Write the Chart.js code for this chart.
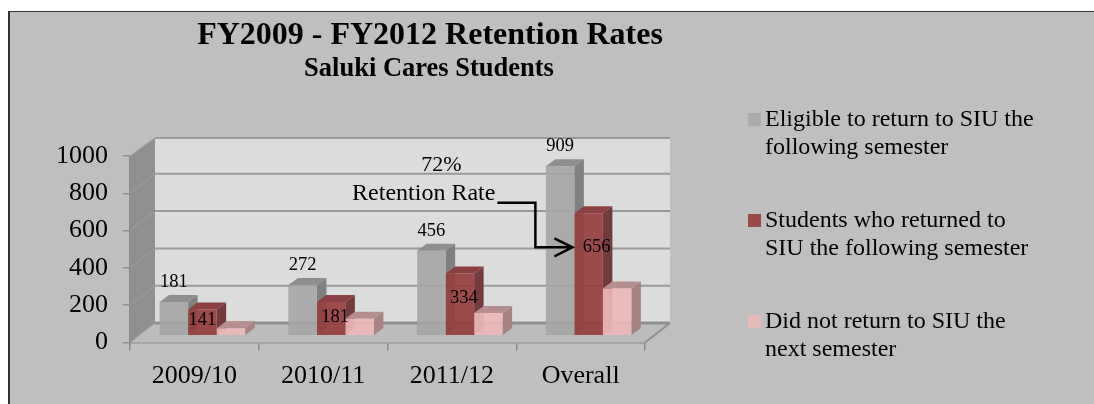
<!DOCTYPE html>
<html>
<head>
<meta charset="utf-8">
<title>FY2009 - FY2012 Retention Rates</title>
<script src="https://cdn.jsdelivr.net/npm/chart.js@4/dist/chart.umd.min.js"></script>
<style>
  html, body { margin: 0; padding: 0; background: #fff; width: 1094px; height: 404px; overflow: hidden; }
  #panel { position: absolute; left: 8px; top: 11px; right: 0; bottom: 0; background: #bfbfbf;
           border-left: 2px solid #333; border-top: 1px solid #333; }
  #chart { position: absolute; left: 0; top: 0; }
</style>
</head>
<body>
<div id="panel"></div>
<canvas id="chart" width="1094" height="404"></canvas>
<script>
const categories = ['2009/10', '2010/11', '2011/12', 'Overall'];
const eligible = [181, 272, 456, 909];
const returned = [141, 181, 334, 656];
const notReturned = [40, 91, 122, 253];
const yTicks = [0, 200, 400, 600, 800, 1000];

const legendLines = [
  ['Eligible to return to SIU the', 'following semester'],
  ['Students who returned to', 'SIU the following semester'],
  ['Did not return to SIU the', 'next semester'],
];

const SERIF = '"Liberation Serif", "Times New Roman", serif';
const FRONT = ['#acacac', '#9c4848', '#e8b9b9'];
const TOP   = ['#8e8e8e', '#8a4040', '#b58f8f'];
const SIDE  = ['#808080', '#733c3c', '#a68282'];

// offset between the axis plane and the plane the bars stand on
const BAR_SHIFT = { x: 8, y: -6.8 };
const BAR_DEPTH = { x: 9.5, y: 7 };
const WALL_DEPTH = { x: 25, y: 19.5 };

// red labels sit by hand inside the bars in the original
const RED_DROP = [11, 15, 25, 34];
const RED_NUDGE = [0, 4, 4, 8];

function poly(ctx, pts, fill) {
  ctx.beginPath();
  pts.forEach((p, i) => i ? ctx.lineTo(p[0], p[1]) : ctx.moveTo(p[0], p[1]));
  ctx.closePath();
  ctx.fillStyle = fill;
  ctx.fill();
}

function text(ctx, str, x, y, font, align) {
  ctx.font = font;
  ctx.textAlign = align || 'center';
  ctx.textBaseline = 'middle';
  ctx.fillStyle = '#000';
  ctx.fillText(str, x, y);
}

const walls = {
  id: 'walls',
  beforeDatasetsDraw(chart) {
    const { ctx, chartArea: a, scales: { y } } = chart;
    const d = WALL_DEPTH;
    const y0 = y.getPixelForValue(0), yTop = y.getPixelForValue(1000);
    ctx.save();
    // back wall, side wall, floor
    poly(ctx, [[a.left + d.x, yTop - d.y + 1.5], [a.right + d.x, yTop - d.y + 1.5], [a.right + d.x, y0 - d.y], [a.left + d.x, y0 - d.y]], '#dcdcdc');
    poly(ctx, [[a.left, yTop], [a.left + d.x, yTop - d.y + 1.5], [a.left + d.x, y0 - d.y], [a.left, y0]], '#8f8f8f');
    poly(ctx, [[a.left, y0], [a.left + d.x, y0 - d.y], [a.right + d.x, y0 - d.y], [a.right, y0]], '#bcbcbc');

    yTicks.forEach(v => {
      const py = y.getPixelForValue(v);
      ctx.beginPath();
      ctx.strokeStyle = '#9e9e9e';
      ctx.lineWidth = 1;
      ctx.moveTo(a.left, py);
      ctx.lineTo(a.left + d.x, py - d.y + (v === 1000 ? 1.5 : 0));
      ctx.stroke();
      ctx.beginPath();
      ctx.strokeStyle = v === 0 ? '#8f8f8f' : '#9a9a9a';
      ctx.lineWidth = v === 0 ? 3 : 2;
      ctx.moveTo(a.left + d.x, py - d.y + (v === 1000 ? 1.5 : 0));
      ctx.lineTo(a.right + d.x, py - d.y + (v === 1000 ? 1.5 : 0));
      ctx.stroke();
    });
    // floor right edge
    ctx.beginPath();
    ctx.strokeStyle = '#8f8f8f';
    ctx.lineWidth = 2;
    ctx.moveTo(a.right, y0);
    ctx.lineTo(a.right + d.x, y0 - d.y);
    ctx.stroke();
    ctx.restore();
  },
};

// shift the bars onto their plane and give them top and side faces,
// faces go down first so the front of the next bar covers them
const bars3d = {
  id: 'bars3d',
  beforeDatasetsDraw(chart) {
    const { ctx } = chart;
    const d = BAR_DEPTH;
    ctx.save();
    ctx.translate(BAR_SHIFT.x, BAR_SHIFT.y);
    [0, 1, 2].forEach(s => {
      chart.getDatasetMeta(s).data.forEach(bar => {
        const l = bar.x - bar.width / 2, r = bar.x + bar.width / 2;
        poly(ctx, [[r, bar.y], [r + d.x, bar.y - d.y], [r + d.x, bar.base - d.y], [r, bar.base]], SIDE[s]);
        poly(ctx, [[l, bar.y], [l + d.x, bar.y - d.y], [r + d.x, bar.y - d.y], [r, bar.y]], TOP[s]);
      });
    });
  },
  afterDatasetsDraw(chart) {
    chart.ctx.restore();
  },
};

const overlay = {
  id: 'overlay',
  afterDraw(chart) {
    const { ctx } = chart;
    ctx.save();

    // titles
    text(ctx, 'FY2009 - FY2012 Retention Rates', 430, 36, 'bold 32px ' + SERIF);
    text(ctx, 'Saluki Cares Students', 429, 69, 'bold 26.5px ' + SERIF);

    // value labels
    const labelFont = '18.5px ' + SERIF;
    chart.getDatasetMeta(0).data.forEach((bar, i) => {
      text(ctx, String(eligible[i]), bar.x + BAR_SHIFT.x, bar.y + BAR_SHIFT.y - 20, labelFont);
    });
    chart.getDatasetMeta(1).data.forEach((bar, i) => {
      text(ctx, String(returned[i]), bar.x + BAR_SHIFT.x + RED_NUDGE[i], bar.y + BAR_SHIFT.y + RED_DROP[i], labelFont);
    });

    // retention rate callout, hung off the Overall red bar
    const red = chart.getDatasetMeta(1).data[3];
    const tipX = red.x + BAR_SHIFT.x - red.width / 2 - 2;
    const tipY = red.y + BAR_SHIFT.y + 34;
    text(ctx, '72%', tipX - 131, tipY - 82, '22px ' + SERIF);
    text(ctx, 'Retention Rate', tipX - 77, tipY - 54, '24px ' + SERIF, 'right');
    ctx.strokeStyle = '#000';
    ctx.lineWidth = 2.5;
    ctx.beginPath();
    ctx.moveTo(tipX - 75, tipY - 44.5);
    ctx.lineTo(tipX - 37, tipY - 44.5);
    ctx.lineTo(tipX - 37, tipY);
    ctx.lineTo(tipX, tipY);
    ctx.moveTo(tipX - 18, tipY - 9);
    ctx.lineTo(tipX, tipY);
    ctx.lineTo(tipX - 18, tipY + 9);
    ctx.stroke();

    // legend
    const legendFont = '24px ' + SERIF;
    legendLines.forEach((lines, i) => {
      const top = 120 + i * 101;
      ctx.fillStyle = FRONT[i];
      ctx.fillRect(748, top - 7, 13, 13);
      lines.forEach((line, k) => text(ctx, line, 765, top + k * 28, legendFont, 'left'));
    });

    ctx.restore();
  },
};

new Chart(document.getElementById('chart'), {
  type: 'bar',
  data: {
    labels: categories,
    datasets: [
      { label: legendLines[0].join(' '), data: eligible, backgroundColor: 'rgba(165,165,165,0.9)' },
      { label: legendLines[1].join(' '), data: returned, backgroundColor: 'rgba(150,62,62,0.92)' },
      { label: legendLines[2].join(' '), data: notReturned, backgroundColor: 'rgba(236,184,184,0.92)' },
    ],
  },
  options: {
    responsive: false,
    animation: false,
    layout: { autoPadding: false, padding: { left: 0, top: 156, right: 449, bottom: 0 } },
    datasets: { bar: { categoryPercentage: 0.664, barPercentage: 1, borderWidth: 0 } },
    plugins: { legend: { display: false }, title: { display: false }, tooltip: { enabled: false } },
    scales: {
      x: {
        afterFit: s => { s.height = 61.5; },
        grid: { drawOnChartArea: false, tickLength: 8, color: '#8c8c8c', lineWidth: 1.5 },
        border: { color: '#8c8c8c', width: 1.5 },
        ticks: { color: '#000', font: { family: SERIF, size: 26 }, padding: 10, maxRotation: 0 },
      },
      y: {
        min: 0,
        max: 1000,
        afterFit: s => { s.width = 130; },
        afterBuildTicks: s => { s.ticks = yTicks.map(v => ({ value: v })); },
        grid: { drawOnChartArea: false, tickLength: 7, color: '#8c8c8c', lineWidth: 1.5 },
        border: { color: '#8c8c8c', width: 1.5 },
        ticks: { color: '#000', font: { family: SERIF, size: 26 }, padding: 15, callback: v => String(v) },
      },
    },
  },
  plugins: [walls, bars3d, overlay],
});
</script>
</body>
</html>
